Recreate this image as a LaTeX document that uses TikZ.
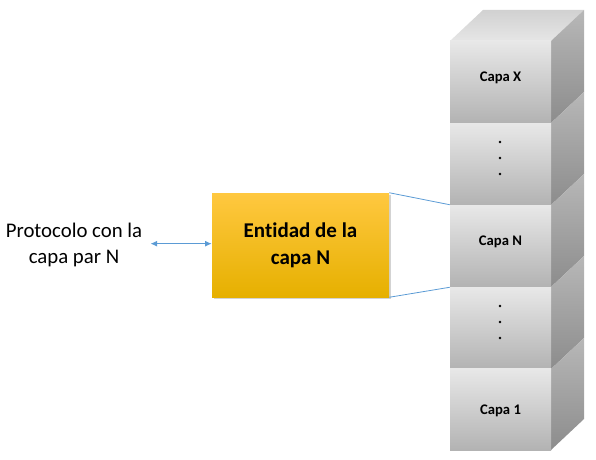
\documentclass[tikz,border=0pt]{standalone}
\usepackage{fontspec}
\setmainfont[Ligatures=NoCommon]{Carlito}
\usetikzlibrary{shadows,arrows.meta}
\begin{document}
\begin{tikzpicture}[x=0.75pt,y=-0.75pt,
  face/.style={rectangle,minimum width=75.75pt,minimum height=61.5pt,inner sep=0pt,
    top color=black!9,bottom color=black!30,font=\bfseries\fontsize{11}{13}\selectfont},
  sideface/.style={top color=black!28,bottom color=black!45},
  entity/.style={rectangle,minimum width=132.75pt,minimum height=78pt,inner sep=0pt,
    top color={rgb,255:red,255;green,200;blue,64},bottom color={rgb,255:red,230;green,176;blue,0},
    drop shadow={opacity=0.35,shadow xshift=1.5pt,shadow yshift=-1.5pt},
    align=center,font=\bfseries\fontsize{15.75}{20}\selectfont},
  plain/.style={align=center,font=\fontsize{15.6}{19.5}\selectfont,inner sep=0pt}]
\definecolor{linkblue}{RGB}{91,155,213}
\tikzset{link/.style={draw=linkblue,line width=0.6pt}}
\useasboundingbox (0,0) rectangle (596,460);
% top face
\shade[top color=black!18,bottom color=black!10] (450,41) -- (483,10) -- (584,10) -- (551,41) -- cycle;
% side faces
\foreach \t/\b in {41/123,123/205,205/287,287/369,369/450}{
  \shade[sideface] (551,\t) -- (584,\t-31) -- (584,\b-31) -- (551,\b) -- cycle;
}
% front faces
\node[face] (capaX) at (500.5,82) {};
\node[face] (dotsA) at (500.5,164) {};
\node[face] (capaN) at (500.5,246) {};
\node[face] (dotsB) at (500.5,328) {};
\node[face] (capa1) at (500.5,409.5) {};
\node[font=\bfseries\fontsize{11}{13}\selectfont] (lX) at (500.5,78) {Capa X};
\node[font=\bfseries\fontsize{11}{13}\selectfont] (lN) at (500.5,242) {Capa N};
\node[font=\bfseries\fontsize{11}{13}\selectfont] (l1) at (500.5,411) {Capa 1};
\foreach \yy in {142,158,174,306,322,338}{
  \fill (500,\yy) circle (1pt);
}
% entity
\node[entity] (ent) at (300.5,245) {Entidad de la\\capa N};
\node[plain] (proto) at (74,245) {Protocolo con la\\capa par N};
\draw[link] (ent.north east) -- (capaN.north west);
\draw[link] (ent.south east) -- (capaN.south west);
\draw[draw=linkblue,line width=0.8pt,{Latex[length=5pt,width=4.5pt]}-{Latex[length=5pt,width=4.5pt]}]
  ([xshift=6pt,yshift=1pt]proto.east) -- ([yshift=1pt]ent.west);
\end{tikzpicture}
\end{document}
